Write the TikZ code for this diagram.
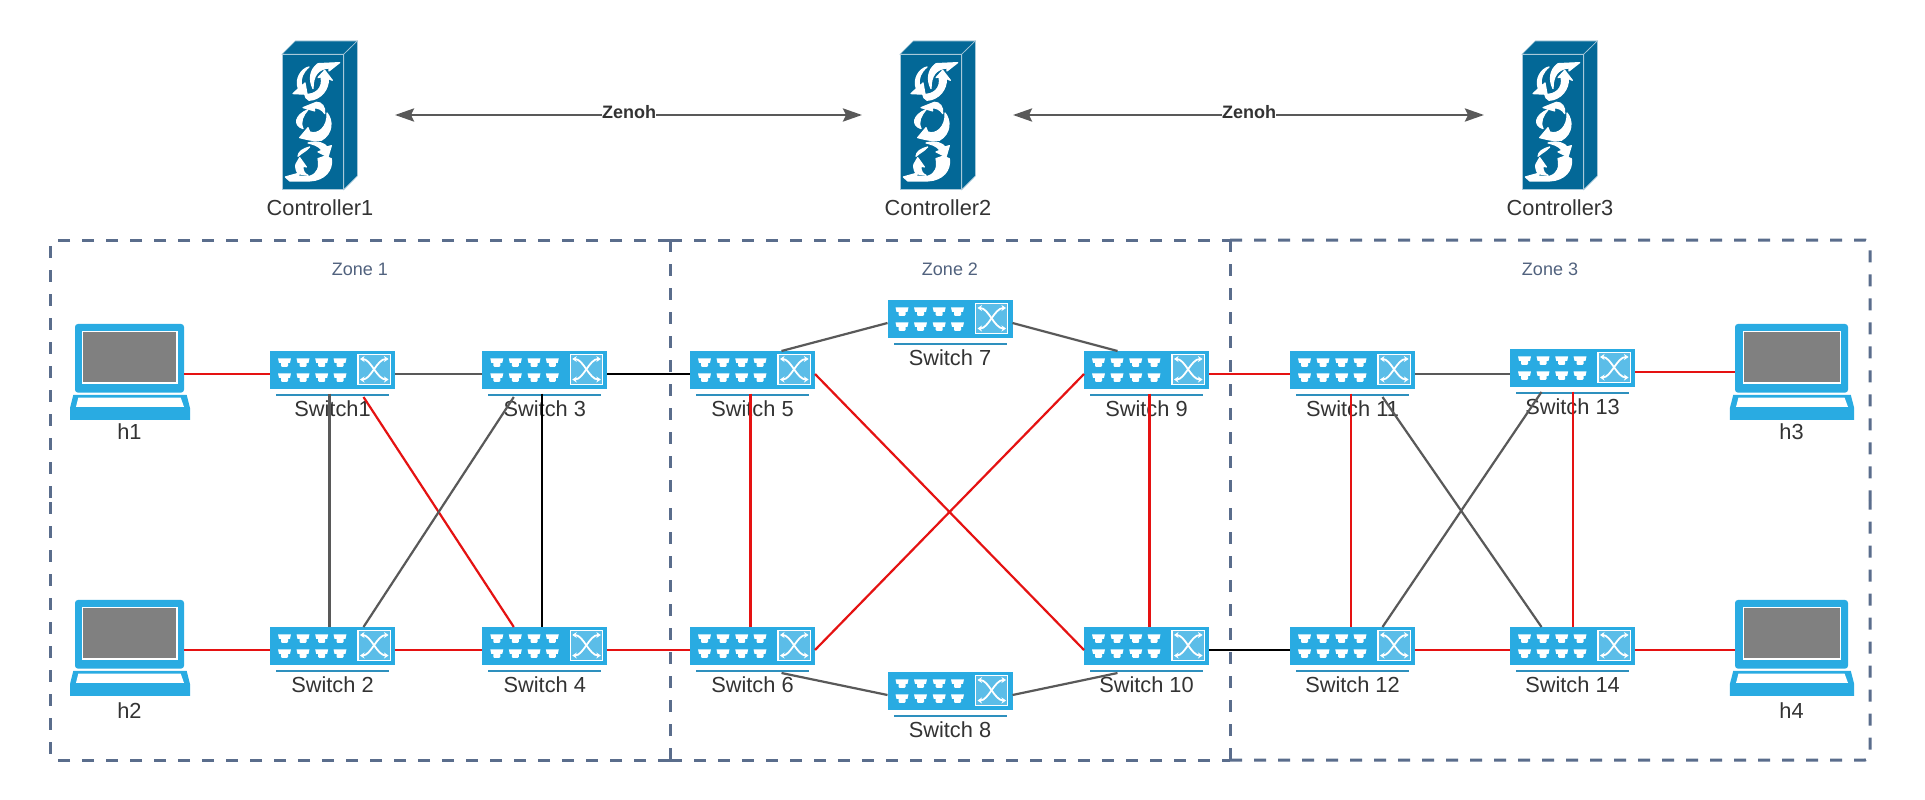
\documentclass[tikz,border=0pt]{standalone}
\usepackage{fontspec}
\setmainfont{Liberation Sans}
\usetikzlibrary{arrows.meta,calc}
\definecolor{swblue}{HTML}{29ABE2}
\definecolor{swline}{HTML}{2E90BE}
\definecolor{swpale}{HTML}{5BBDE8}
\definecolor{ctblue}{HTML}{036897}
\definecolor{ctedge}{HTML}{A9C9D9}
\definecolor{zonec}{HTML}{5A6D8C}
\definecolor{txt}{HTML}{333333}
\definecolor{lnred}{HTML}{E51212}
\definecolor{lngray}{HTML}{595959}
\tikzset{
  every node/.style={inner sep=0pt,outer sep=0pt},
  swnode/.style={minimum width=125pt,minimum height=46pt},
  lab/.style={anchor=base,text=txt,font=\fontsize{21.8}{24}\selectfont},
  zonebox/.style={minimum height=520pt},
  zoneline/.style={draw=zonec,line width=3pt,dash pattern=on 12pt off 12pt,rounded corners=5pt},
  zonelab/.style={text=zonec!90!black,font=\fontsize{18}{20}\selectfont},
  ctnode/.style={minimum width=76pt,minimum height=148pt},
  lidnode/.style={fill=swblue,rounded corners=3pt,minimum height=68.7pt},
  redl/.style={draw=lnred,line width=2.2pt},
  grayl/.style={draw=lngray,line width=2.2pt},
  blackl/.style={draw=black,line width=2.2pt},
  zen/.style={draw=lngray,line width=2.7pt,{Stealth[length=19pt,width=13pt,inset=3pt]}-{Stealth[length=19pt,width=13pt,inset=3pt]},shorten >=38pt,shorten <=37pt},
  zenlab/.style={anchor=base,yshift=-3.3pt,fill=white,text=txt,font=\bfseries\fontsize{18}{20}\selectfont},
  xarrow/.style={draw=white,line width=1.8pt,{Stealth[length=4.5pt,width=6pt]}-{Stealth[length=4.5pt,width=6pt]}},
  ctarrow/.style={fill=white,draw=white,line width=1.2pt,line join=round},
}
\newcommand{\portT}[2]{%
  \fill[white] (#1-6.5,#2) -- (#1+6.5,#2) -- (#1+5.5,#2+4.5) -- (#1+3.5,#2+4.5) -- (#1+3.5,#2+7.5) -- (#1+2.5,#2+8.5) -- (#1-2.5,#2+8.5) -- (#1-3.5,#2+7.5) -- (#1-3.5,#2+4.5) -- (#1-5.5,#2+4.5) -- cycle;}
\newcommand{\swt}[4]{%
  \node[swnode] (#1) at (#2,#3) {};
  \begin{scope}[shift={(#1.north west)}]
    \fill[swblue] (0,0) rectangle (125,38);
    \fill[swline] (6,43) rectangle (119,45.4);
    \foreach \px in {14.5,33,51.7,70}{\portT{\px}{7.3}\portT{\px}{22.3}}
    \filldraw[fill=swpale,draw=white,line width=1.2pt] (88,3.6) rectangle (120.3,33.6);
    \draw[xarrow] (90,8) .. controls (101,8) and (107,28.5) .. (118.5,28.5);
    \draw[xarrow] (90,28.5) .. controls (101,28.5) and (107,8) .. (118.5,8);
  \end{scope}
  \node[lab] (#1l) at ([yshift=-42pt]#1.center) {#4};}
% name, x, y, label, lid width, label drop
\newcommand{\lapt}[6]{%
  \node[lidnode,minimum width=#5pt] (#1) at (#2,#3) {};
  \begin{scope}[shift={(#1.north west)},xscale=#5/109]
    \filldraw[fill=gray,draw=white,line width=1.2pt] (7.8,7.2) rectangle (102,59);
    \fill[swblue] (-1.7,71) -- (111.7,71) -- (115,84.3) -- (115,96) -- (-5,96) -- (-5,84.3) -- cycle;
    \fill[white] (3.3,73.7) -- (105.7,73.7) -- (109,83) -- (1,83) -- cycle;
  \end{scope}
  \node[lab] (#1l) at ([yshift=-#6pt]#1.center) {#4};}
\newcommand{\ctrl}[4]{%
  \node[ctnode] (#1) at (#2,#3) {};
  \begin{scope}[shift={(#1.north west)}]
    \filldraw[fill=ctblue,draw=ctedge,line width=.6pt] (0,13.3) -- (13.3,0) -- (75.3,0) -- (61.7,13.3) -- cycle;
    \filldraw[fill=ctblue,draw=ctedge,line width=.6pt] (61.7,13.3) -- (75.3,0) -- (75.3,135) -- (61.7,148.7) -- cycle;
    \filldraw[fill=ctblue,draw=ctedge,line width=.6pt] (0,13.3) rectangle (61.7,148.7);
    \begin{scope}[shift={(-32.3,-20.7)},x=.3333pt,y=-.3333pt]
      \path[ctarrow] (270,127) -- (238,152) -- (238,143) .. controls (205,146) and (190,165) .. (190,205) .. controls (178,180) and (178,150) .. (205,130) -- cycle;
      \path[ctarrow] (178,140) .. controls (155,145) and (135,175) .. (146,205) -- (130,220) -- (172,222) -- (166,188) -- (156,197) .. controls (150,175) and (160,155) .. (178,140) -- cycle;
      \path[ctarrow] (225,150) -- (248,180) -- (236,175) .. controls (238,205) and (215,238) .. (178,240) .. controls (170,236) and (166,230) .. (165,222) .. controls (195,225) and (222,205) .. (214,170) -- (205,172) -- cycle;
      \path[ctarrow] (200,246) -- (160,262) -- (195,272) -- (193,263) .. controls (205,262) and (218,268) .. (225,280) .. controls (228,260) and (215,245) .. (200,246) -- cycle;
      \path[ctarrow] (175,268) .. controls (135,285) and (130,315) .. (160,325) .. controls (150,305) and (160,285) .. (175,268) -- cycle;
      \path[ctarrow] (232,278) .. controls (250,300) and (250,340) .. (215,360) .. controls (195,362) and (180,360) .. (150,352) -- (175,322) -- (180,335) .. controls (205,345) and (235,320) .. (232,278) -- cycle;
      \path[ctarrow] (175,368) .. controls (205,360) and (225,370) .. (232,380) -- (245,376) -- (235,410) -- (205,395) -- (217,390) .. controls (205,375) and (190,372) .. (175,368) -- cycle;
      \path[ctarrow] (180,380) .. controls (160,385) and (145,395) .. (145,408) .. controls (158,396) and (170,392) .. (180,380) -- cycle;
      \path[ctarrow] (245,415) .. controls (250,450) and (225,480) .. (180,482) -- (120,482) -- (107,470) -- (150,458) -- (145,468) -- (180,468) .. controls (205,460) and (210,440) .. (205,415) -- (225,408) -- cycle;
      \path[ctarrow] (150,412) -- (170,440) -- (160,438) .. controls (158,450) and (165,462) .. (175,465) -- (145,460) .. controls (135,445) and (138,430) .. (140,430) -- cycle;
    \end{scope}
  \end{scope}
  \node[lab] (#1l) at ([yshift=-100pt]#1.center) {#4};}
\begin{document}
\begin{tikzpicture}[x=1pt,y=-1pt]
\useasboundingbox (0,0) rectangle (1925,800);
\fill[white] (0,0) rectangle (1925,800);
% zones
\node[zonebox,minimum width=620pt] (z1) at (360,500) {};
\node[zonebox,minimum width=560pt] (z2) at (950,500) {};
\node[zonebox,minimum width=640pt] (z3) at (1550,500) {};
\draw[zoneline] (z1.north east) -- (z1.north west) -- (z1.west);
\draw[zoneline] (z1.south east) -- (z1.south west) -- (z1.west);
\draw[zoneline] (z2.north west) -- (z2.north east);
\draw[zoneline] (z2.south west) -- (z2.south east);
\draw[zoneline] (z3.north west) -- (z3.north east) -- (z3.east);
\draw[zoneline] (z3.south west) -- (z3.south east) -- (z3.east);
\draw[zoneline] (z2.north west) -- (z2.west);
\draw[zoneline] (z2.south west) -- (z2.west);
\draw[zoneline] (z2.north east) -- (z2.east);
\draw[zoneline] (z2.south east) -- (z2.east);
\node[zonelab] (z1l) at ([yshift=-29pt]z1.north) {Zone 1};
\node[zonelab] (z2l) at ([yshift=-29pt]z2.north) {Zone 2};
\node[zonelab] (z3l) at ([yshift=-29pt]z3.north) {Zone 3};
% controllers
\ctrl{c1}{320}{115}{Controller1}
\ctrl{c2}{938}{115}{Controller2}
\ctrl{c3}{1560}{115}{Controller3}
% hosts
\lapt{h1}{129.5}{358.3}{h1}{109}{80.7}
\lapt{h2}{129.5}{634.3}{h2}{109}{83.7}
\lapt{h3}{1791.5}{358.3}{h3}{113}{80.7}
\lapt{h4}{1791.5}{634.3}{h4}{113}{83.7}
% switches
\swt{s1}{332.5}{374}{Switch1}
\swt{s3}{544.8}{374}{Switch 3}
\swt{s5}{752.5}{374}{Switch 5}
\swt{s7}{950}{323}{Switch 7}
\swt{s9}{1146.5}{374}{Switch 9}
\swt{s11}{1352.5}{374}{Switch 11}
\swt{s13}{1572.5}{372}{Switch 13}
\swt{s2}{332.5}{650}{Switch 2}
\swt{s4}{544.8}{650}{Switch 4}
\swt{s6}{752.5}{650}{Switch 6}
\swt{s8}{950}{695}{Switch 8}
\swt{s10}{1146.5}{650}{Switch 10}
\swt{s12}{1352.5}{650}{Switch 12}
\swt{s14}{1572.5}{650}{Switch 14}
% controller links
\draw[zen] (c1.east) -- node[midway,zenlab] (zen1) {Zenoh} (c2.west);
\draw[zen] (c2.east) -- node[midway,zenlab] (zen2) {Zenoh} (c3.west);
% red links
\draw[redl] (h1.east |- s1.west) -- (s1.west);
\draw[redl] (h2.east |- s2.west) -- (s2.west);
\draw[redl] (s2.east) -- (s4.west);
\draw[redl] (s4.east) -- (s6.west);
\draw[redl] ([xshift=31pt]s1.south) -- ([xshift=-31pt]s4.north);
\draw[redl] ([xshift=-2pt,yshift=3.5pt]s5.south) -- ([xshift=-2pt]s6.north);
\draw[redl] (s5.east) -- (s10.west);
\draw[redl] (s6.east) -- (s9.west);
\draw[redl] ([xshift=3pt,yshift=3.5pt]s9.south) -- ([xshift=3pt]s10.north);
\draw[redl] (s9.east) -- (s11.west);
\draw[redl] ([xshift=-1.5pt,yshift=3.5pt]s11.south) -- ([xshift=-1.5pt]s12.north);
\draw[redl] (s12.east) -- (s14.west);
\draw[redl] ([xshift=.5pt,yshift=3.5pt]s13.south) -- ([xshift=.5pt]s14.north);
\draw[redl] (s13.east) -- (h3.west |- s13.east);
\draw[redl] (s14.east) -- (h4.west |- s14.east);
% gray links
\draw[grayl] (s1.east) -- (s3.west);
\draw[grayl] ([xshift=-3pt,yshift=3.5pt]s1.south) -- ([xshift=-3pt]s2.north);
\draw[grayl] ([xshift=-31pt]s3.south) -- ([xshift=31pt]s2.north);
\draw[grayl] ([xshift=29pt]s5.north) -- (s7.west);
\draw[grayl] (s7.east) -- ([xshift=-29pt]s9.north);
\draw[grayl] ([xshift=29pt]s6.south) -- (s8.west);
\draw[grayl] (s8.east) -- ([xshift=-29pt]s10.south);
\draw[grayl] (s11.east) -- (s13.west |- s11.east);
\draw[grayl] ([xshift=30pt]s11.south) -- ([xshift=-31pt]s14.north);
\draw[grayl] ([xshift=-31pt,yshift=3pt]s13.south) -- ([xshift=30pt]s12.north);
% black links
\draw[blackl] (s3.east) -- (s5.west);
\draw[blackl] ([xshift=-3pt,yshift=3.5pt]s3.south) -- ([xshift=-3pt]s4.north);
\draw[blackl] (s10.east) -- (s12.west);
\end{tikzpicture}
\end{document}
